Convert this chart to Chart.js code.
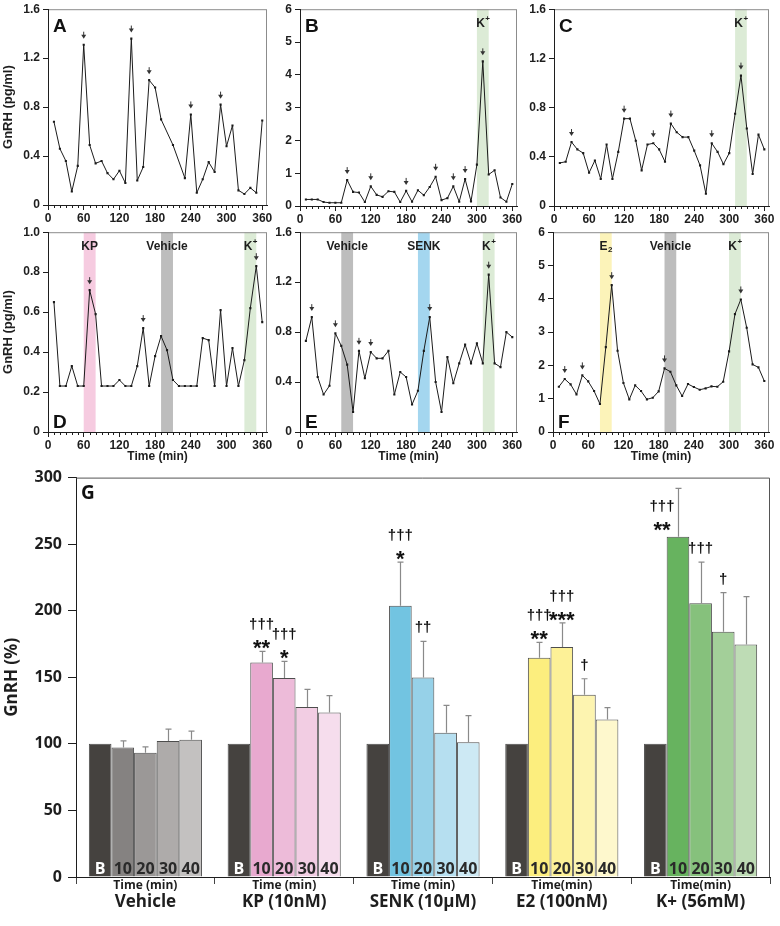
<!DOCTYPE html>
<html>
<head>
<meta charset="utf-8">
<script src="https://cdn.jsdelivr.net/npm/chart.js@4.4.1/dist/chart.umd.min.js"></script>
<style>
html, body { margin: 0; padding: 0; background: #fff; }
#wrap { position: relative; width: 780px; height: 926px; overflow: hidden; }
#wrap canvas { position: absolute; }
</style>
</head>
<body>
<div id="wrap"></div>
<script>
// ---- data: GnRH release (pg/ml) every 10 min ----
const times = [10,20,30,40,50,60,70,80,90,100,110,120,130,140,150,160,170,180,190,200,210,220,230,240,250,260,270,280,290,300,310,320,330,340,350,360];
const timesA = [10,20,30,40,50,60,70,80,90,100,110,120,130,140,150,160,170,180,190,210,230,240,250,260,270,280,290,300,310,320,330,340,350,360];

const gnrhA = [0.68,0.46,0.36,0.11,0.32,1.31,0.49,0.34,0.36,0.26,0.21,0.28,0.18,1.36,0.20,0.31,1.02,0.96,0.70,0.49,0.22,0.74,0.10,0.21,0.35,0.27,0.82,0.48,0.65,0.12,0.09,0.14,0.10,0.69];
const gnrhB = [0.20,0.20,0.20,0.12,0.10,0.10,0.10,0.79,0.43,0.41,0.12,0.60,0.34,0.28,0.45,0.43,0.12,0.46,0.13,0.48,0.33,0.58,0.89,0.18,0.24,0.60,0.13,0.82,0.14,1.26,4.41,0.96,1.09,0.26,0.13,0.67];
const gnrhC = [0.35,0.36,0.52,0.46,0.43,0.27,0.37,0.22,0.50,0.22,0.44,0.71,0.71,0.53,0.29,0.50,0.51,0.46,0.36,0.67,0.60,0.56,0.56,0.45,0.33,0.10,0.51,0.44,0.34,0.43,0.75,1.06,0.63,0.26,0.58,0.46];
const gnrhD = [0.65,0.23,0.23,0.33,0.23,0.23,0.71,0.59,0.23,0.23,0.23,0.26,0.23,0.23,0.33,0.52,0.23,0.38,0.48,0.41,0.26,0.23,0.23,0.23,0.23,0.47,0.46,0.23,0.61,0.23,0.42,0.23,0.36,0.62,0.83,0.55];
const gnrhE = [0.73,0.92,0.44,0.30,0.37,0.79,0.69,0.54,0.16,0.65,0.43,0.64,0.59,0.59,0.65,0.30,0.48,0.44,0.22,0.33,0.65,0.92,0.40,0.16,0.60,0.39,0.55,0.70,0.55,0.71,0.55,1.26,0.55,0.52,0.80,0.76];
const gnrhF = [1.36,1.59,1.43,1.13,1.70,1.52,1.23,0.84,2.55,4.41,2.44,1.47,0.98,1.40,1.23,0.98,1.03,1.22,1.91,1.81,1.40,1.08,1.44,1.35,1.27,1.31,1.37,1.36,1.51,2.42,3.54,3.98,3.13,2.03,1.94,1.53];

// pulse peaks (min)
const peaksA = [60,140,170,240,290];
const peaksB = [80,120,180,230,260,280,310];
const peaksC = [30,120,170,200,270,320];
const peaksD = [70,160,350];
const peaksE = [20,60,100,120,220,320];
const peaksF = [20,50,100,190,320];

// treatment windows (min)
const treatB = [{ from: 300, to: 320, label: 'K', sup: '+', kind: 'k' }];
const treatC = [{ from: 310, to: 330, label: 'K', sup: '+', kind: 'k' }];
const treatD = [{ from: 60, to: 80, label: 'KP', kind: 'kp' }, { from: 190, to: 210, label: 'Vehicle', kind: 'veh' }, { from: 330, to: 350, label: 'K', sup: '+', kind: 'k' }];
const treatE = [{ from: 70, to: 90, label: 'Vehicle', kind: 'veh' }, { from: 200, to: 220, label: 'SENK', kind: 'senk' }, { from: 310, to: 330, label: 'K', sup: '+', kind: 'k' }];
const treatF = [{ from: 80, to: 100, label: 'E', sub: '2', kind: 'e2' }, { from: 190, to: 210, label: 'Vehicle', kind: 'veh' }, { from: 300, to: 320, label: 'K', sup: '+', kind: 'k' }];

// ---- data: GnRH (%) of baseline ----
const groups = ['Vehicle', 'KP (10nM)', 'SENK (10µM)', 'E2 (100nM)', 'K+ (56mM)'];
const timeCaptions = ['Time (min)', 'Time (min)', 'Time (min)', 'Time(min)', 'Time(min)'];
const barTimes = ['B', '10', '20', '30', '40'];
const pctB  = [100, 100, 100, 100, 100];
const pct10 = [97.3, 161.2, 203.7, 164.7, 255.6];
const pct20 = [93.3, 149.4, 149.9, 172.8, 205.7];
const pct30 = [102.2, 127.7, 108.4, 136.8, 184.2];
const pct40 = [103.0, 123.5, 101.2, 118.3, 174.6];
const sem10 = [4.9, 8.2, 32.8, 11.6, 36.3];
const sem20 = [4.5, 12.6, 27.1, 18.1, 30.8];
const sem30 = [8.9, 13.3, 20.5, 12.1, 29.4];
const sem40 = [6.6, 12.8, 20.0, 8.9, 36.0];
const dagger10 = ['', '†††', '†††', '†††', '†††'];
const dagger20 = ['', '†††', '††', '†††', '†††'];
const dagger30 = ['', '', '', '†', '†'];
const dagger40 = ['', '', '', '', ''];
const star10 = ['', '**', '*', '**', '**'];
const star20 = ['', '*', '', '***', ''];
const star30 = ['', '', '', '', ''];
const star40 = ['', '', '', '', ''];

// ---- styles ----
const LF = '"Liberation Sans", Arial, sans-serif';
const GF = '"Open Sans", sans-serif';
const INK = '#1e1e1e';
const bandColors = { k: '#dcebd6', kp: '#f6cbe0', veh: '#bdbdbd', senk: '#a4d6ef', e2: '#fcf3b9' };
const groupPalette = [
    ['#45423f', '#858281', '#9b9897', '#aeabaa', '#c3c1c0'],
    ['#45423f', '#e8a9cf', '#edbbd9', '#f2cde3', '#f6dded'],
    ['#45423f', '#72c4e1', '#96d1e8', '#b6dff0', '#cde9f4'],
    ['#45423f', '#fcee7e', '#fdf197', '#fdf4b0', '#fef8cd'],
    ['#45423f', '#67b35f', '#86c17c', '#a3cf99', '#bedcb5']
];

const wrap = document.getElementById('wrap');
const PAD_T = 8, PAD_R = 12;

function addCanvas(left, top, w, h) {
    const cv = document.createElement('canvas');
    cv.width = w; cv.height = h;
    cv.style.left = left + 'px';
    cv.style.top = top + 'px';
    cv.style.width = w + 'px';
    cv.style.height = h + 'px';
    wrap.appendChild(cv);
    return cv;
}

function drawScripted(ctx, b, cx, cy) {
    const big = 'bold 12px ' + LF, small = 'bold 8px ' + LF;
    ctx.font = big;
    const mw = ctx.measureText(b.label).width;
    const scr = b.sup || b.sub || '';
    ctx.font = small;
    const sw = scr ? ctx.measureText(scr).width : 0;
    const x0 = cx - (mw + sw) / 2;
    ctx.textAlign = 'left';
    ctx.textBaseline = 'middle';
    ctx.font = big;
    ctx.fillText(b.label, x0, cy);
    if (scr) {
        ctx.font = small;
        ctx.fillText(scr, x0 + mw + 0.5, cy + (b.sup ? -4 : 4));
    }
}

function panelPlugin(p) {
    return {
        id: 'panel' + p.letter,
        beforeDraw(chart) {
            const { ctx, chartArea: a, scales: { x } } = chart;
            ctx.save();
            for (const b of p.bands) {
                const x0 = x.getPixelForValue(b.from), x1 = x.getPixelForValue(b.to);
                ctx.fillStyle = bandColors[b.kind];
                ctx.fillRect(x0, a.top, x1 - x0, a.bottom - a.top);
            }
            ctx.strokeStyle = '#8c8c8c';
            ctx.lineWidth = 1;
            ctx.strokeRect(a.left + 0.5, a.top + 0.5, a.right - a.left - 1, a.bottom - a.top);
            ctx.restore();
        },
        afterDraw(chart) {
            const { ctx, chartArea: a, scales: { x, y } } = chart;
            ctx.save();
            // minor ticks
            ctx.strokeStyle = INK;
            ctx.lineWidth = 1;
            ctx.beginPath();
            for (let t = 10; t <= 360; t += 10) {
                if (t % 60 === 0) continue;
                const px = Math.round(x.getPixelForValue(t)) + 0.5;
                ctx.moveTo(px, a.bottom);
                ctx.lineTo(px, a.bottom + 3);
            }
            ctx.stroke();
            // pulse arrows
            ctx.fillStyle = '#333';
            ctx.strokeStyle = '#333';
            for (const t of p.peaks) {
                const i = p.t.indexOf(t);
                const px = x.getPixelForValue(t), py = y.getPixelForValue(p.v[i]);
                const tip = py - 6;
                ctx.beginPath();
                ctx.moveTo(px, tip - 7);
                ctx.lineTo(px, tip - 3);
                ctx.stroke();
                ctx.beginPath();
                ctx.moveTo(px - 2.5, tip - 4);
                ctx.lineTo(px + 2.5, tip - 4);
                ctx.lineTo(px, tip);
                ctx.closePath();
                ctx.fill();
            }
            // treatment labels
            ctx.fillStyle = INK;
            for (const b of p.bands) {
                const cx = (x.getPixelForValue(b.from) + x.getPixelForValue(b.to)) / 2;
                drawScripted(ctx, b, cx, a.top + 14);
            }
            // panel letter
            ctx.font = 'bold 19px ' + LF;
            ctx.textAlign = 'left';
            ctx.textBaseline = 'alphabetic';
            ctx.fillStyle = '#111';
            ctx.fillText(p.letter, a.left + 5, p.letterTop ? a.top + 23 : a.bottom - 4);
            ctx.restore();
        }
    };
}

function makeLinePanel(p) {
    const w = p.yW + (p.right - p.left) + PAD_R;
    const h = PAD_T + (p.bottom - p.top) + p.xH;
    const cv = addCanvas(p.left - p.yW, p.top - PAD_T, w, h);
    const tickFont = { family: LF, size: 12, weight: 'bold' };
    new Chart(cv, {
        type: 'line',
        data: {
            datasets: [{
                data: p.t.map((t, i) => ({ x: t, y: p.v[i] })),
                borderColor: '#1b1b1b',
                borderWidth: 1,
                pointStyle: 'rect',
                pointRadius: 1.5,
                pointBorderWidth: 0,
                pointBackgroundColor: '#1b1b1b',
                tension: 0
            }]
        },
        options: {
            responsive: false,
            animation: false,
            devicePixelRatio: 1,
            layout: { padding: { top: PAD_T, right: PAD_R, left: 0, bottom: 0 } },
            plugins: { legend: { display: false }, tooltip: { enabled: false } },
            scales: {
                x: {
                    type: 'linear', min: 0, max: 368,
                    afterFit: s => { s.height = p.xH; },
                    ticks: { stepSize: 60, includeBounds: false, font: tickFont, color: INK, padding: 1, maxRotation: 0 },
                    grid: { drawOnChartArea: false, tickLength: 5, color: INK },
                    border: { color: INK, width: 1 },
                    title: { display: !!p.xTitle, text: 'Time (min)', font: tickFont, color: INK, padding: { top: 0, bottom: 2 } }
                },
                y: {
                    min: 0, max: p.yMax,
                    afterFit: s => { s.width = p.yW; },
                    ticks: { stepSize: p.yStep, includeBounds: false, font: tickFont, color: INK, padding: 3 },
                    grid: { drawOnChartArea: false, tickLength: 5, color: INK },
                    border: { color: INK, width: 1 },
                    title: { display: !!p.yTitle, text: 'GnRH (pg/ml)', font: { family: LF, size: 13, weight: 'bold' }, color: INK, padding: { top: 1, bottom: 0 } }
                }
            }
        },
        plugins: [panelPlugin(p)]
    });
}

const panels = [
    { letter: 'A', t: timesA, v: gnrhA, peaks: peaksA, bands: [], yMax: 1.6, yStep: 0.4, left: 48, right: 267, top: 7, bottom: 205, yW: 48, xH: 18, yTitle: true, letterTop: true },
    { letter: 'B', t: times, v: gnrhB, peaks: peaksB, bands: treatB, yMax: 6, yStep: 1, left: 300, right: 517, top: 7, bottom: 206, yW: 30, xH: 18, letterTop: true },
    { letter: 'C', t: times, v: gnrhC, peaks: peaksC, bands: treatC, yMax: 1.6, yStep: 0.4, left: 554, right: 769, top: 7, bottom: 206, yW: 34, xH: 18, letterTop: true },
    { letter: 'D', t: times, v: gnrhD, peaks: peaksD, bands: treatD, yMax: 1, yStep: 0.2, left: 48, right: 267, top: 230, bottom: 432, yW: 48, xH: 34, yTitle: true, xTitle: true },
    { letter: 'E', t: times, v: gnrhE, peaks: peaksE, bands: treatE, yMax: 1.6, yStep: 0.4, left: 300, right: 517, top: 230, bottom: 432, yW: 30, xH: 34, xTitle: true },
    { letter: 'F', t: times, v: gnrhF, peaks: peaksF, bands: treatF, yMax: 6, yStep: 1, left: 553, right: 769, top: 230, bottom: 432, yW: 33, xH: 34, xTitle: true }
];
panels.forEach(makeLinePanel);

// ---- panel G: bar chart ----
const pctSeries = [pctB, pct10, pct20, pct30, pct40];
const semSeries = [null, sem10, sem20, sem30, sem40];
const daggerSeries = [null, dagger10, dagger20, dagger30, dagger40];
const starSeries = [null, star10, star20, star30, star40];

const barPlugin = {
    id: 'barDeco',
    afterDatasetsDraw(chart) {
        const { ctx, chartArea: a, scales: { y } } = chart;
        ctx.save();
        pctSeries.forEach((vals, i) => {
            const meta = chart.getDatasetMeta(i);
            meta.data.forEach((bar, g) => {
                // error bar
                if (semSeries[i]) {
                    const top = y.getPixelForValue(vals[g] + semSeries[i][g]);
                    const bx = Math.round(bar.x) + 0.5;
                    ctx.strokeStyle = '#8a8a8a';
                    ctx.lineWidth = 1.2;
                    ctx.beginPath();
                    ctx.moveTo(bx, bar.y);
                    ctx.lineTo(bx, top);
                    ctx.moveTo(bx - 3, top);
                    ctx.lineTo(bx + 3, top);
                    ctx.stroke();
                    // significance marks (moved beside the error bar when no room above it)
                    const st = starSeries[i][g], dg = daggerSeries[i][g];
                    let ax = bar.x, base = top;
                    if (top - 34 < a.top) { ax = bar.x - 16; base = bar.y - 4; }
                    ctx.fillStyle = '#111';
                    ctx.textAlign = 'center';
                    ctx.textBaseline = 'alphabetic';
                    if (st) {
                        ctx.font = 'bold 22px ' + LF;
                        ctx.fillText(st, ax, base + 4);
                    }
                    if (dg) {
                        ctx.font = 'bold 15px ' + LF;
                        ctx.fillText(dg, ax, st ? base - 22 : base - 9);
                    }
                }
                // time label inside bar
                ctx.font = 'bold 16px ' + GF;
                ctx.textAlign = 'center';
                ctx.textBaseline = 'alphabetic';
                ctx.fillStyle = i === 0 ? '#ffffff' : '#2a2a2a';
                ctx.fillText(barTimes[i], bar.x, a.bottom - 3);
            });
        });
        ctx.restore();
    },
    afterDraw(chart) {
        const { ctx, chartArea: a, scales: { x } } = chart;
        ctx.save();
        ctx.strokeStyle = '#555';
        ctx.lineWidth = 1;
        ctx.beginPath();
        ctx.moveTo(a.left, a.top + 0.5);
        ctx.lineTo(a.right - 0.5, a.top + 0.5);
        ctx.lineTo(a.right - 0.5, a.bottom);
        ctx.stroke();
        ctx.fillStyle = INK;
        ctx.font = 'bold 12px ' + GF;
        ctx.textAlign = 'center';
        ctx.textBaseline = 'middle';
        timeCaptions.forEach((c, g) => ctx.fillText(c, x.getPixelForValue(g), a.bottom + 9));
        ctx.font = 'bold 19px ' + GF;
        ctx.textAlign = 'left';
        ctx.textBaseline = 'alphabetic';
        ctx.fillStyle = '#111';
        ctx.fillText('G', a.left + 5, a.top + 21);
        ctx.restore();
    }
};

(function makeBarPanel() {
    const left = 76, right = 770, top = 472, bottom = 877, yW = 76, padR = 10, padT = 10;
    const xH = 926 - bottom;
    const cv = addCanvas(left - yW, top - padT, yW + (right - left) + padR, padT + (bottom - top) + xH);
    new Chart(cv, {
        type: 'bar',
        data: {
            labels: groups,
            datasets: pctSeries.map((vals, i) => ({
                label: barTimes[i],
                data: vals,
                backgroundColor: groupPalette.map(pal => pal[i]),
                borderColor: '#4d4d4d',
                borderWidth: 1,
                categoryPercentage: 0.815,
                barPercentage: 1
            }))
        },
        options: {
            responsive: false,
            animation: false,
            devicePixelRatio: 1,
            layout: { padding: { top: padT, right: padR, left: 0, bottom: 0 } },
            plugins: { legend: { display: false }, tooltip: { enabled: false } },
            scales: {
                x: {
                    afterFit: s => { s.height = xH; },
                    ticks: { font: { family: GF, size: 17, weight: 'bold' }, color: INK, padding: 8, maxRotation: 0, autoSkip: false },
                    grid: { drawOnChartArea: false, offset: true, tickLength: 7, color: '#444' },
                    border: { color: INK, width: 1 }
                },
                y: {
                    min: 0, max: 300,
                    afterFit: s => { s.width = yW; },
                    ticks: { stepSize: 50, font: { family: GF, size: 16, weight: 'bold' }, color: INK, padding: 6 },
                    grid: { drawOnChartArea: false, tickLength: 8, color: INK },
                    border: { color: INK, width: 1 },
                    title: { display: true, text: 'GnRH (%)', font: { family: GF, size: 17, weight: 'bold' }, color: INK, padding: { top: 2, bottom: 0 } }
                }
            }
        },
        plugins: [barPlugin]
    });
})();
</script>
</body>
</html>
